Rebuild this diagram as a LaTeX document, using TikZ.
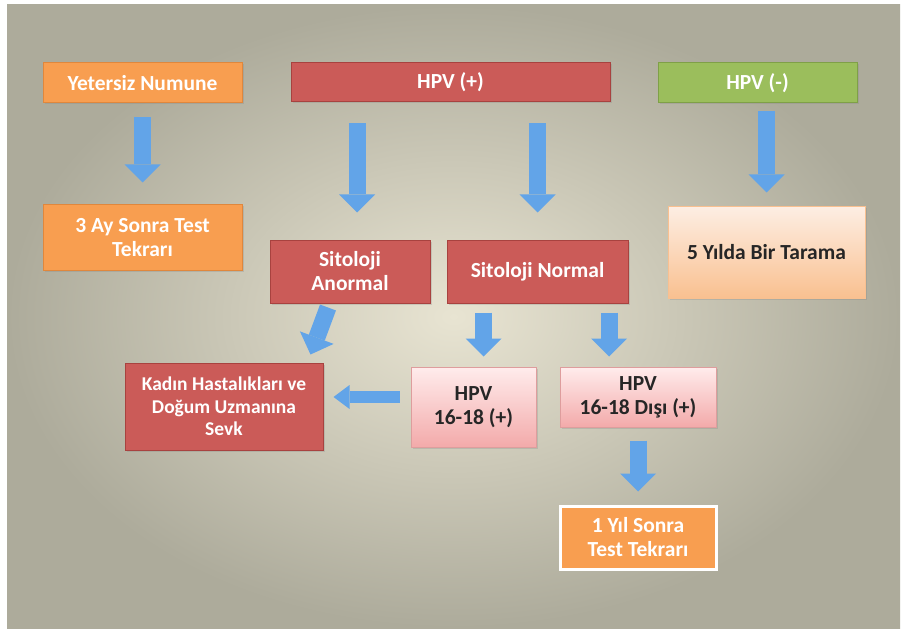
\documentclass[tikz,border=0pt]{standalone}
\usepackage{fontspec}
\setmainfont{Carlito}
\usepackage{xcolor}
\usetikzlibrary{arrows.meta,shadows}
\definecolor{kirmizi}{HTML}{CB5B58}
\definecolor{kirmizikenar}{HTML}{A8423F}
\definecolor{turuncu}{HTML}{F89E50}
\definecolor{turuncukenar}{HTML}{E0873C}
\definecolor{yesil}{HTML}{9BBE5C}
\definecolor{yesilkenar}{HTML}{7FA047}
\definecolor{seftaliust}{HTML}{FDEEE3}
\definecolor{seftalialt}{HTML}{F9C090}
\definecolor{pembeust}{HTML}{FFECEC}
\definecolor{pembealt}{HTML}{F3AAAA}
\definecolor{pembekenar}{HTML}{DE9D9D}
\definecolor{okmavi}{HTML}{62A4E8}
\definecolor{zeminic}{HTML}{E8E4D2}
\definecolor{zemindis}{HTML}{ADAB9B}
\tikzstyle{kutu} = [rectangle, inner sep=4pt, align=center, line width=1pt,
    drop shadow={opacity=0.25, shadow xshift=1.5pt, shadow yshift=-1.5pt}]
\tikzstyle{kirmizikutu} = [kutu, fill=kirmizi, draw=kirmizikenar, text=white]
\tikzstyle{turuncukutu} = [kutu, fill=turuncu, draw=turuncukenar, text=white]
\tikzstyle{yesilkutu} = [kutu, fill=yesil, draw=yesilkenar, text=white]
\tikzstyle{seftalikutu} = [kutu, top color=seftaliust, bottom color=seftalialt,
    draw=seftalialt, text=black!85]
\tikzstyle{pembekutu} = [kutu, top color=pembeust, bottom color=pembealt,
    draw=pembekenar, text=black!85]
\tikzstyle{ok} = [draw=okmavi, line width=17pt,
    -{Triangle[width=36pt,length=18pt,line width=0pt]}]
\tikzstyle{okkucuk} = [draw=okmavi, line width=12pt,
    -{Triangle[width=24pt,length=16pt,line width=0pt]}]

\begin{document}
\begin{tikzpicture}[x=1pt, y=-1pt, font=\fontsize{21.5}{24}\selectfont\bfseries]
\useasboundingbox (0,0) rectangle (902,631);
\fill[white] (0,0) rectangle (902,631);
\shade[inner color=zeminic, outer color=zemindis] (7,5) rectangle (900,628);

% ust satir
\node[turuncukutu, minimum width=199pt, minimum height=40pt] (yet) at (142.5,83) {Yetersiz Numune};
\node[kirmizikutu, minimum width=319pt, minimum height=39pt] (hpvp) at (450.5,82.5) {HPV (+)};
\node[yesilkutu, minimum width=199pt, minimum height=40pt] (hpvn) at (757.5,83) {HPV (-)};

% ikinci satir
\node[turuncukutu, minimum width=199pt, minimum height=65pt] (ay) at (142.5,237.5) {3 Ay Sonra Test\\Tekrarı};
\node[kirmizikutu, minimum width=160pt, minimum height=63pt] (anor) at (350,271.5) {Sitoloji\\Anormal};
\node[kirmizikutu, minimum width=181pt, minimum height=63pt] (norm) at (537.5,271.5) {Sitoloji Normal};
\node[seftalikutu, minimum width=197pt, minimum height=91pt] (tarama) at (766.5,252.5) {5 Yılda Bir Tarama};

% alt satirlar
\node[kirmizikutu, minimum width=198pt, minimum height=87pt,
    font=\fontsize{19.5}{22.5}\selectfont\bfseries] (sevk) at (224,406.5) {Kadın Hastalıkları ve\\Doğum Uzmanına\\Sevk};
\node[pembekutu, minimum width=125pt, minimum height=80pt] (tip) at (473.5,407) {HPV\\16-18 (+)};
\node[pembekutu, minimum width=156pt, minimum height=60pt] (disi) at (638,397) {HPV\\16-18 Dışı (+)};
\node[turuncukutu, draw=white, line width=3pt, minimum width=156pt, minimum height=63pt] (yil) at (638,537.5) {1 Yıl Sonra\\Test Tekrarı};

% oklar
\draw[ok] ([yshift=-14pt]yet.south) -- ([yshift=22pt]ay.north);
\draw[ok] ([xshift=7pt,yshift=-21pt]hpvp.south -| anor.north) -- ([xshift=7pt,yshift=27pt]anor.north);
\draw[ok] ([yshift=-21pt]hpvp.south -| norm.north) -- ([yshift=27pt]norm.north);
\draw[ok] ([yshift=-8pt]hpvn.south -| tarama.north) -- ([yshift=14pt]tarama.north);
\draw[ok] ([xshift=-22pt,yshift=-4pt]anor.south) -- ([xshift=-13pt,yshift=8pt]sevk.north east);
\draw[ok] ([xshift=10pt,yshift=-9pt]norm.south -| tip.north) -- ([xshift=10pt,yshift=10pt]tip.north);
\draw[ok] ([xshift=-29pt,yshift=-9pt]norm.south -| disi.north) -- ([xshift=-29pt,yshift=10pt]disi.north);
\draw[okkucuk] ([xshift=-11pt,yshift=10pt]tip.west) -- ([xshift=10pt,yshift=10pt]tip.west -| sevk.east);
\draw[ok] ([yshift=-13pt]disi.south) -- ([yshift=13pt]yil.north);
\end{tikzpicture}
\end{document}
